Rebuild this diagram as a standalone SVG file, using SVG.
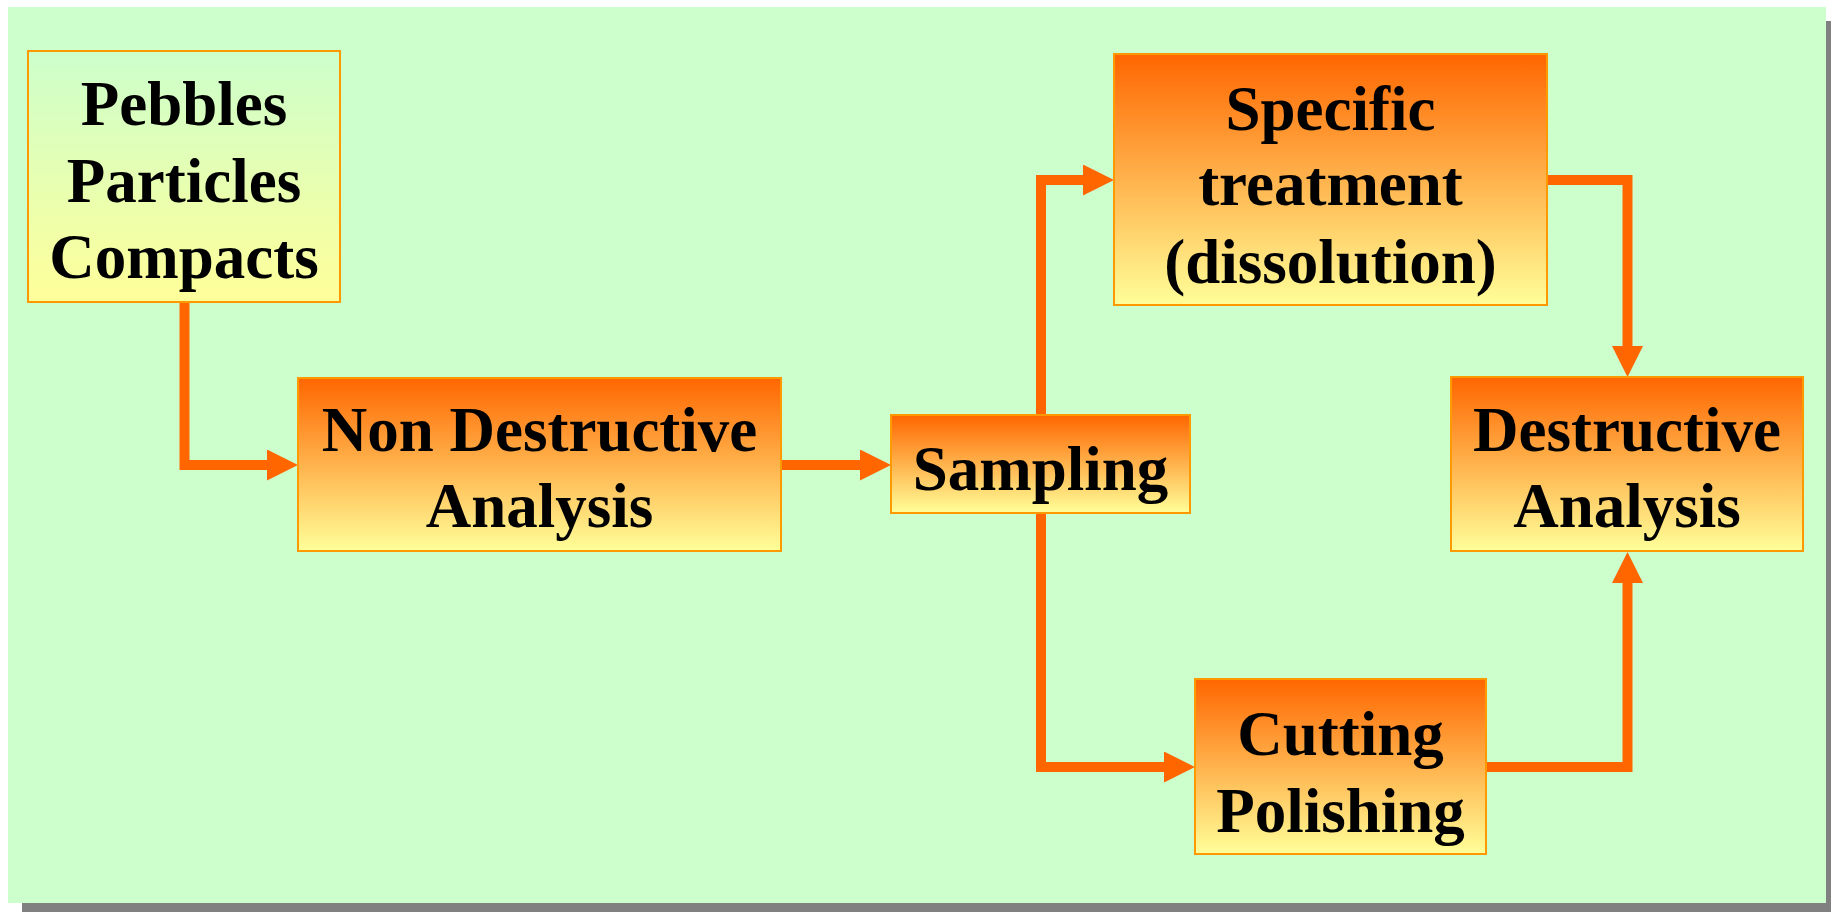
<svg xmlns="http://www.w3.org/2000/svg" width="1831" height="912" viewBox="0 0 1831 912">
<defs>
<linearGradient id="gOrange" x1="0" y1="0" x2="0" y2="1">
<stop offset="0" stop-color="#FF6600"/>
<stop offset="1" stop-color="#FFFF99"/>
</linearGradient>
<linearGradient id="gGreen" x1="0" y1="0" x2="0" y2="1">
<stop offset="0" stop-color="#CCFFCC"/>
<stop offset="1" stop-color="#FFFF99"/>
</linearGradient>
<marker id="arr" viewBox="0 0 31 31" refX="0" refY="15.5" markerWidth="31" markerHeight="31" markerUnits="userSpaceOnUse" orient="auto">
<path d="M0,0 L31,15.5 L0,31 Z" fill="#FF6600"/>
</marker>
<style>
.box{stroke:#FF9900;stroke-width:2}
.orange{fill:url(#gOrange)}
.green{fill:url(#gGreen)}
.lbl{font-family:"Liberation Serif","Times New Roman",serif;font-weight:bold;font-size:63px;fill:#000;text-anchor:middle}
.conn{fill:none;stroke:#FF6600;stroke-width:10;stroke-linejoin:miter;marker-end:url(#arr)}
</style>
</defs>
<rect x="22" y="21" width="1818" height="896" fill="#808080"/>
<rect x="8" y="7" width="1818" height="896" fill="#CCFFCC"/>
<g id="connectors">
<path class="conn" d="M184.5,302 V465 H267"/>
<path class="conn" d="M781,465 H860"/>
<path class="conn" d="M1041,415 V180 H1083"/>
<path class="conn" d="M1547,180 H1627.5 V346"/>
<path class="conn" d="M1041,513 V767 H1164"/>
<path class="conn" d="M1486,767 H1627.5 V583"/>
</g>
<g id="pebbles">
<rect class="box green" x="28" y="51" width="312" height="251"/>
<text class="lbl" x="184" y="125">Pebbles</text>
<text class="lbl" x="184" y="201.5">Particles</text>
<text class="lbl" x="184" y="278">Compacts</text>
</g>
<g id="nda">
<rect class="box orange" x="298" y="378" width="483" height="173"/>
<text class="lbl" x="539.5" y="451">Non Destructive</text>
<text class="lbl" x="539.5" y="527">Analysis</text>
</g>
<g id="sampling">
<rect class="box orange" x="891" y="415" width="299" height="98"/>
<text class="lbl" x="1040.5" y="490">Sampling</text>
</g>
<g id="specific">
<rect class="box orange" x="1114" y="54" width="433" height="251"/>
<text class="lbl" x="1330.5" y="129.5">Specific</text>
<text class="lbl" x="1330.5" y="205">treatment</text>
<text class="lbl" x="1330.5" y="283">(dissolution)</text>
</g>
<g id="destructive">
<rect class="box orange" x="1451" y="377" width="352" height="174"/>
<text class="lbl" x="1627" y="451">Destructive</text>
<text class="lbl" x="1627" y="527">Analysis</text>
</g>
<g id="cutting">
<rect class="box orange" x="1195" y="679" width="291" height="175"/>
<text class="lbl" x="1340.5" y="755">Cutting</text>
<text class="lbl" x="1340.5" y="831.5">Polishing</text>
</g>
</svg>
